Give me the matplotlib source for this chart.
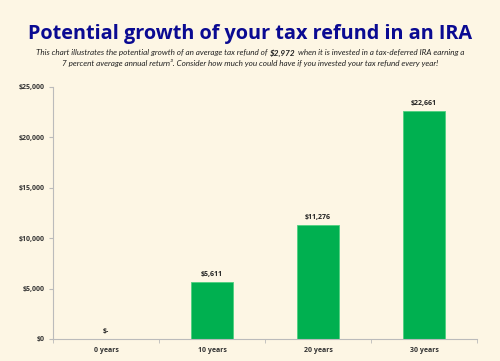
import numpy as np
import matplotlib
matplotlib.use("Agg")
import matplotlib.pyplot as plt

# dados
categorias = ["0 years", "10 years", "20 years", "30 years"]
valores = [0, 5611, 11276, 22661]
rotulos = ["$-", "$5,611", "$11,276", "$22,661"]
yticks = [0, 5000, 10000, 15000, 20000, 25000]
ytick_labels = ["$0", "$5,000", "$10,000", "$15,000", "$20,000", "$25,000"]

FUNDO = "#FDF6E4"
VERDE = "#00B050"
AZUL = "#0A0A92"
FONTE = ["Open Sans", "DejaVu Sans"]
FONTE_SUB = ["Lato", "DejaVu Sans"]

fig = plt.figure(figsize=(5, 3.61), dpi=100, facecolor=FUNDO)
ax = fig.add_axes([53 / 500, 1 - 339 / 361, (477 - 53) / 500, (339 - 87) / 361])
ax.set_facecolor(FUNDO)

x = np.arange(len(categorias))
ax.bar(x, valores, width=0.4, color=VERDE, edgecolor="#4FD07F", linewidth=0.6, zorder=2)
for xi, v, r in zip(x, valores, rotulos):
    ax.text(xi, v + 400, r, ha="center", va="bottom", fontsize=5, fontweight="bold",
            family=FONTE, color="#222222")

ax.set_xlim(-0.5, len(categorias) - 0.5)
ax.set_ylim(0, 25000)
ax.set_yticks(yticks)
ax.set_yticklabels(ytick_labels, fontsize=5, fontweight="bold", family=FONTE, color="#333333")
ax.set_xticks(x)
ax.set_xticklabels(categorias, fontsize=5, fontweight="bold", family=FONTE, color="#333333")
ax.set_xticks(np.arange(len(categorias) + 1) - 0.5, minor=True)
ax.tick_params(axis="x", which="major", length=0, pad=6)
ax.tick_params(axis="x", which="minor", length=3, color="#BBBBBB", direction="out")
ax.tick_params(axis="y", length=3, color="#BBBBBB", pad=3)
for s in ["top", "right"]:
    ax.spines[s].set_visible(False)
for s in ["left", "bottom"]:
    ax.spines[s].set_color("#BBBBBB")
    ax.spines[s].set_linewidth(0.8)

fig.text(0.5, 1 - 34 / 361, "Potential growth of your tax refund in an IRA", ha="center", va="center",
         fontsize=14.3, fontweight="bold", color=AZUL, family=FONTE)

# subtitulo: primeira linha em tres partes (valor em negrito)
partes = [("This chart illustrates the potential growth of an average tax refund of", "normal"),
          ("$2,972", "bold"),
          ("when it is invested in a tax-deferred IRA earning a", "normal")]
fs_sub = 5.9
y1 = 1 - 53 / 361
renderer = fig.canvas.get_renderer()
textos = []
for s, w in partes:
    t = fig.text(0, y1, s, ha="left", va="center", fontsize=fs_sub, style="italic",
                 fontweight=w, family=FONTE_SUB, color="#222222")
    textos.append(t)
larguras = [t.get_window_extent(renderer).width / fig.bbox.width for t in textos]
espaco = 0.005
total = sum(larguras) + 2 * espaco
x0 = 0.5 - total / 2
for t, w in zip(textos, larguras):
    t.set_x(x0)
    x0 += w + espaco

fig.text(0.5, 1 - 63 / 361,
         "7 percent average annual return\u00b3. Consider how much you could have if you invested your tax refund every year!",
         ha="center", va="center", fontsize=fs_sub, style="italic", family=FONTE_SUB, color="#222222")

fig.savefig("out.png", dpi=100, facecolor=FUNDO)
